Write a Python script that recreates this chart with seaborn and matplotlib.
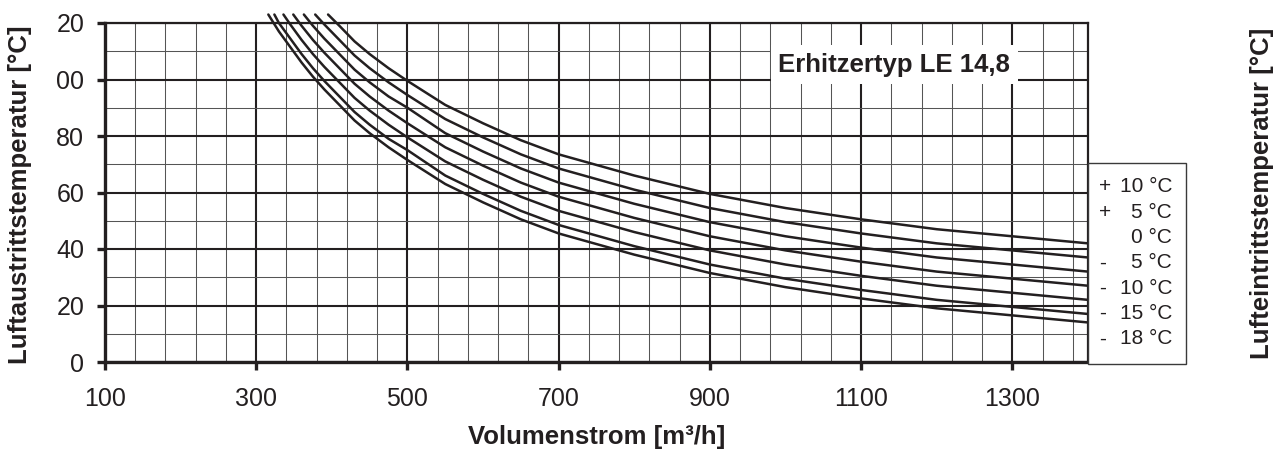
import numpy as np
import pandas as pd
import matplotlib
matplotlib.use("Agg")
import matplotlib.pyplot as plt
from matplotlib.patches import Rectangle
import seaborn as sns

INK = "#231f20"

# inlet air temperatures of the curves (top curve first)
INLET = [10, 5, 0, -5, -10, -15, -18]
INLET_SIGNS = ["+", "+", "", "-", "-", "-", "-"]
INLET_VALUES = ["10 °C", "5 °C", "0 °C", "5 °C", "10 °C", "15 °C", "18 °C"]

# flow where each curve comes in over the top of the chart, and its temperature there
ENTRY_FLOW = [395, 378, 363, 349, 336, 324, 316]
ENTRY_TEMP = 123

# outlet temperature on a common flow grid (nan = above the chart)
FLOW = [330, 345, 360, 375, 390, 410, 430, 450, 475, 500, 550, 600, 650, 700,
        800, 900, 1000, 1100, 1200, 1300, 1400]
nan = np.nan
T_P10 = [nan, nan, nan, nan, nan, 119, 113.5, 109, 104, 99.5, 91, 84.5, 78.5, 73.5,
         66, 59.5, 54.5, 50.5, 47, 44.5, 42]
T_P5 = [nan, nan, nan, nan, 119.5, 114, 108.5, 104, 99, 94.5, 86, 79.5, 73.5, 68.5,
        61, 54.5, 49.5, 45.5, 42, 39.5, 37]
T_0 = [nan, nan, nan, 119, 114.5, 109, 103.5, 99, 94, 90, 81, 74.5, 68.5, 63.5,
       56, 49.5, 44.5, 40.5, 37, 34.5, 32]
T_M5 = [nan, nan, 119, 114, 109.5, 104, 98.5, 94, 89, 84.5, 76, 69.5, 63.5, 58.5,
        51, 44.5, 39.5, 35.5, 32, 29.5, 27]
T_M10 = [nan, 119.5, 114, 109, 104.5, 99, 93.5, 89, 84, 79.5, 71, 64.5, 58.5, 53.5,
         46, 39.5, 34.5, 30.5, 27, 24.5, 22]
T_M15 = [120, 114.5, 109, 104, 99.5, 94, 88.5, 84, 79, 75, 66, 59.5, 53.5, 48.5,
         41, 34.5, 29.5, 25.5, 22, 19.5, 17]
T_M18 = [117, 111.5, 106, 101, 96.5, 91, 85.5, 81, 76, 71.5, 63, 56.5, 50.5, 45.5,
         38, 31.5, 26.5, 22.5, 19, 16.5, 14]
CURVES = [T_P10, T_P5, T_0, T_M5, T_M10, T_M15, T_M18]

X_TICKS = [100, 300, 500, 700, 900, 1100, 1300]
Y_TICKS = [0, 20, 40, 60, 80, 100, 120]
Y_TICK_LABELS = ["0", "20", "40", "60", "80", "00", "20"]

rows = []
for t_in, ef, temps in zip(INLET, ENTRY_FLOW, CURVES):
    rows.append({"inlet": t_in, "flow": ef, "temp": ENTRY_TEMP})
    for f, t in zip(FLOW, temps):
        rows.append({"inlet": t_in, "flow": f, "temp": t})
df = pd.DataFrame(rows).dropna()

sns.set_theme(style="white")
plt.rcParams["font.family"] = ["Liberation Sans", "DejaVu Sans"]
plt.rcParams["text.color"] = INK

W, H = 1285, 450
fig = plt.figure(figsize=(W / 100, H / 100), dpi=100)
ax = fig.add_axes([105 / W, 1 - 362 / H, (1088 - 105) / W, (362 - 23) / H])

sns.lineplot(data=df, x="flow", y="temp", units="inlet", estimator=None,
             color=INK, linewidth=1.8, ax=ax, legend=False)
for line in ax.lines:
    line.set_clip_on(False)
    line.set_zorder(3)
    line.set_solid_joinstyle("round")

ax.set_xlim(100, 1400)
ax.set_ylim(0, 120)
ax.set_xticks(X_TICKS)
ax.set_xticks(np.arange(100, 1400, 40), minor=True)
ax.set_yticks(Y_TICKS)
ax.set_yticklabels(Y_TICK_LABELS)
ax.set_yticks(np.arange(0, 121, 10), minor=True)

ax.grid(which="minor", color="#555555", linewidth=0.75)
ax.grid(which="major", color=INK, linewidth=1.5)
ax.set_axisbelow(True)

ax.tick_params(which="major", direction="out", length=6, width=2.4, color=INK,
               labelsize=18, labelcolor=INK, bottom=True, left=True)
ax.tick_params(axis="y", which="major", pad=9)
ax.tick_params(axis="x", which="major", pad=12)
ax.tick_params(which="minor", length=0)

for side in ["left", "bottom"]:
    ax.spines[side].set_linewidth(2.4)
    ax.spines[side].set_color(INK)
for side in ["top", "right"]:
    ax.spines[side].set_linewidth(1.6)
    ax.spines[side].set_color(INK)
ax.set_xlabel("")
ax.set_ylabel("")

fig.text(20 / W, 1 - 195 / H, "Luftaustrittstemperatur [°C]", rotation=90,
         ha="center", va="center", fontsize=18.5, fontweight="bold", color=INK)
fig.text(1262 / W, 1 - 193 / H, "Lufteintrittstemperatur [°C]", rotation=90,
         ha="center", va="center", fontsize=18.5, fontweight="bold", color=INK)
fig.text(597 / W, 1 - 437 / H, "Volumenstrom [m³/h]", ha="center", va="center",
         fontsize=18.5, fontweight="bold", color=INK)

ax.text(1144, 105.3, "Erhitzertyp LE 14,8", ha="center", va="center",
        fontsize=18.5, fontweight="bold", color=INK, zorder=4,
        bbox=dict(boxstyle="square,pad=0.3", facecolor="white", edgecolor="none"))

# inlet temperature key to the right of the plot
fig.patches.append(Rectangle((1088 / W, 1 - 364 / H), 98 / W, 201 / H,
                             transform=fig.transFigure, facecolor="white",
                             edgecolor="#3a3a3a", linewidth=1.0))
for i, (sign, val) in enumerate(zip(INLET_SIGNS, INLET_VALUES)):
    y = 1 - (187 + i * 25.3) / H
    fig.text(1099 / W, y, sign, ha="left", va="center", fontsize=15, color=INK)
    fig.text(1172 / W, y, val, ha="right", va="center", fontsize=15, color=INK)

fig.savefig("out.png", dpi=100)
